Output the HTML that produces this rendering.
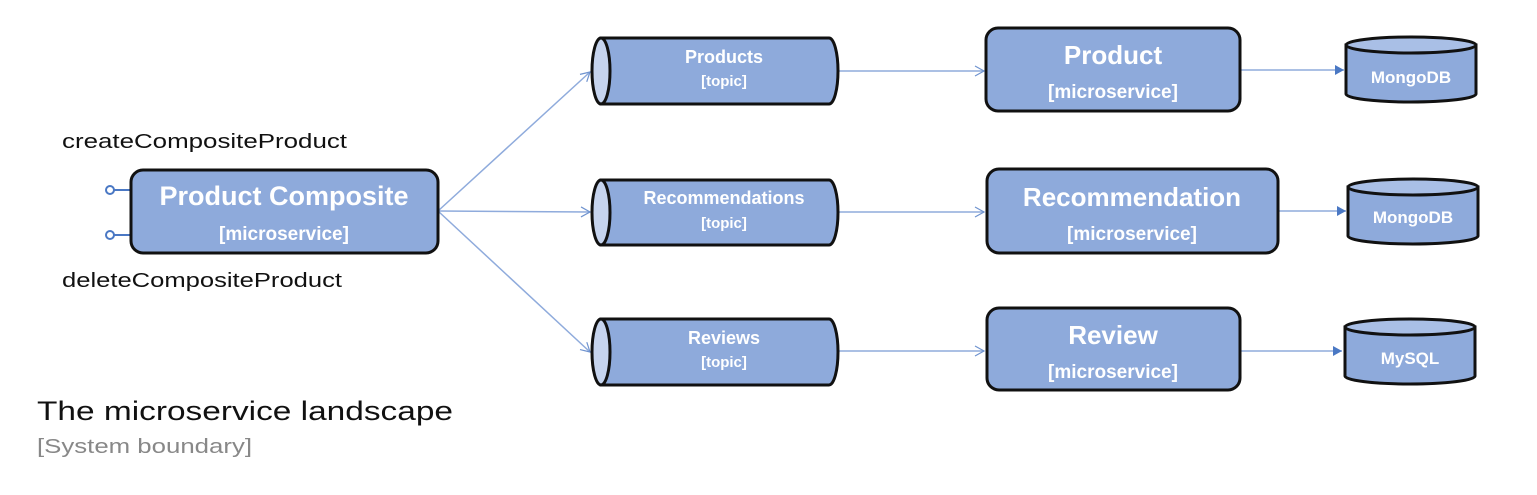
<!DOCTYPE html>
<html><head><meta charset="utf-8"><style>
html,body{margin:0;padding:0;background:#fff;}
svg{display:block;}
</style></head><body>
<svg width="1537" height="495" viewBox="0 0 1537 495" xmlns="http://www.w3.org/2000/svg" font-family="Liberation Sans, sans-serif">
<defs>
<marker id="oa" markerWidth="12" markerHeight="12" refX="10" refY="6" orient="auto" markerUnits="userSpaceOnUse">
<path d="M1,1 L10,6 L1,11" fill="none" stroke="#6f93cf" stroke-width="1.2"/></marker>
<marker id="fa" markerWidth="12" markerHeight="12" refX="10" refY="6" orient="auto" markerUnits="userSpaceOnUse">
<path d="M1,1 L10,6 L1,11 Z" fill="#4a78c4"/></marker>
</defs>
<g stroke="#8fabdc" stroke-width="1.5" fill="none">
<line x1="438" y1="211" x2="590" y2="72" marker-end="url(#oa)"/>
<line x1="438" y1="211" x2="590" y2="212" marker-end="url(#oa)"/>
<line x1="438" y1="211" x2="590" y2="352" marker-end="url(#oa)"/>
<line x1="838" y1="71" x2="984" y2="71" marker-end="url(#oa)"/>
<line x1="838" y1="212" x2="984" y2="212" marker-end="url(#oa)"/>
<line x1="838" y1="351" x2="984" y2="351" marker-end="url(#oa)"/>
<line x1="1240" y1="70" x2="1344" y2="70" marker-end="url(#fa)"/>
<line x1="1278" y1="211" x2="1346" y2="211" marker-end="url(#fa)"/>
<line x1="1240" y1="351" x2="1342" y2="351" marker-end="url(#fa)"/>
</g>
<g stroke="#4a78c4" stroke-width="2" fill="#fff">
<line x1="114" y1="190" x2="131" y2="190"/><circle cx="110" cy="190" r="4"/>
<line x1="114" y1="235" x2="131" y2="235"/><circle cx="110" cy="235" r="4"/>
</g>
<g fill="#8eaadb" stroke="#111" stroke-width="3">
<rect x="131" y="170" width="307" height="83" rx="12"/>
<rect x="986" y="28" width="254" height="83" rx="12"/>
<rect x="987" y="169" width="291" height="84" rx="12"/>
<rect x="987" y="308" width="253" height="82" rx="12"/>
</g>
<g stroke="#111" stroke-width="3">
<path d="M601,38 L829,38 A9,33 0 0 1 829,104 L601,104 Z" fill="#8eaadb"/><ellipse cx="601" cy="71" rx="9" ry="33" fill="#c6d4ee"/>
<path d="M601,180 L829,180 A9,32.5 0 0 1 829,245 L601,245 Z" fill="#8eaadb"/><ellipse cx="601" cy="212.5" rx="9" ry="32.5" fill="#c6d4ee"/>
<path d="M601,319 L829,319 A9,33 0 0 1 829,385 L601,385 Z" fill="#8eaadb"/><ellipse cx="601" cy="352" rx="9" ry="33" fill="#c6d4ee"/>
</g>
<g stroke="#111" stroke-width="3">
<path d="M1346,45 L1346,94 A65,8 0 0 0 1476,94 L1476,45 Z" fill="#8eaadb"/><ellipse cx="1411" cy="45" rx="65" ry="8" fill="#a9bfe6"/>
<path d="M1348,187 L1348,236 A65,8 0 0 0 1478,236 L1478,187 Z" fill="#8eaadb"/><ellipse cx="1413" cy="187" rx="65" ry="8" fill="#a9bfe6"/>
<path d="M1345,327 L1345,376 A65,8 0 0 0 1475,376 L1475,327 Z" fill="#8eaadb"/><ellipse cx="1410" cy="327" rx="65" ry="8" fill="#a9bfe6"/>
</g>
<g fill="#fff" font-weight="bold" text-anchor="middle">
<text x="284" y="205" font-size="27">Product Composite</text>
<text x="284" y="240" font-size="19">[microservice]</text>
<text x="1113" y="64" font-size="26">Product</text>
<text x="1113" y="98" font-size="19">[microservice]</text>
<text x="1132" y="206" font-size="26">Recommendation</text>
<text x="1132" y="240" font-size="19">[microservice]</text>
<text x="1113" y="344" font-size="26">Review</text>
<text x="1113" y="378" font-size="19">[microservice]</text>
<text x="724" y="63" font-size="18">Products</text>
<text x="724" y="86" font-size="15">[topic]</text>
<text x="724" y="204" font-size="18">Recommendations</text>
<text x="724" y="228" font-size="15">[topic]</text>
<text x="724" y="344" font-size="18">Reviews</text>
<text x="724" y="367" font-size="15">[topic]</text>
<text x="1411" y="83" font-size="17">MongoDB</text>
<text x="1413" y="223" font-size="17">MongoDB</text>
<text x="1410" y="364" font-size="17">MySQL</text>
</g>
<text x="62" y="148" font-size="20" fill="#111" textLength="285" lengthAdjust="spacingAndGlyphs">createCompositeProduct</text>
<text x="62" y="287" font-size="20" fill="#111" textLength="280" lengthAdjust="spacingAndGlyphs">deleteCompositeProduct</text>
<text x="37" y="420" font-size="27" fill="#111" textLength="416" lengthAdjust="spacingAndGlyphs">The microservice landscape</text>
<text x="37" y="453" font-size="20" fill="#888" textLength="215" lengthAdjust="spacingAndGlyphs">[System boundary]</text>
</svg>
</body></html>
